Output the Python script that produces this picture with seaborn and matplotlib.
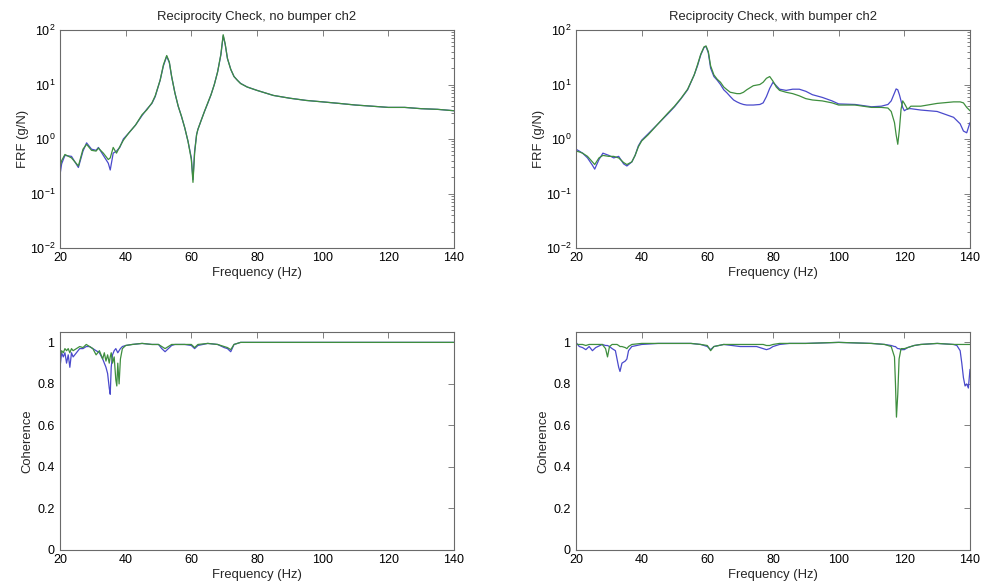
import numpy as np
import pandas as pd
import matplotlib
matplotlib.use("Agg")
import matplotlib.pyplot as plt
import seaborn as sns
from matplotlib.ticker import FixedLocator, FuncFormatter, LogLocator, NullFormatter

# ---------------- data ----------------
titles = ["Reciprocity Check, no bumper ch2", "Reciprocity Check, with bumper ch2"]
channels = ["ch A", "ch B"]
xticks = [20, 40, 60, 80, 100, 120, 140]
coh_ticks = [0, 0.2, 0.4, 0.6, 0.8, 1.0]

# FRF, no bumper
f_nb = [20, 20.5, 21.5, 23.5, 25.6, 27, 28.1, 29.6, 31, 31.7, 33.2, 34.7, 35.3, 36.2, 37.2,
        38.2, 39.3, 41, 43, 45, 46.4, 48, 49, 50.5, 51.5, 52.5, 53.3, 54, 55, 56, 57, 58, 59,
        60, 60.5, 61, 61.6, 62, 63, 64, 65, 66, 67, 68, 69, 69.7, 70.3, 71, 72, 73, 74, 75, 77,
        80, 85, 90, 95, 100, 105, 110, 115, 120, 125, 130, 135, 140]
frf_nb_blue = [0.22, 0.35, 0.5, 0.48, 0.3, 0.6, 0.85, 0.65, 0.62, 0.7, 0.5, 0.36, 0.27, 0.55, 0.6,
               0.7, 1.0, 1.3, 1.8, 2.7, 3.5, 4.5, 6, 12, 22, 33, 25, 14, 7, 4, 2.6, 1.6, 0.9,
               0.45, 0.18, 0.6, 1.2, 1.5, 2.2, 3.2, 4.5, 6.5, 10, 17, 35, 78, 55, 30, 19, 14, 12, 10.5, 9,
               7.8, 6.3, 5.6, 5.1, 4.8, 4.5, 4.2, 4.0, 3.8, 3.8, 3.6, 3.5, 3.3]
frf_nb_green = [0.3, 0.4, 0.52, 0.45, 0.32, 0.65, 0.8, 0.62, 0.6, 0.68, 0.55, 0.42, 0.45, 0.7, 0.55,
                0.72, 0.95, 1.3, 1.8, 2.8, 3.4, 4.6, 6.2, 12, 23, 34, 26, 14, 7, 4, 2.6, 1.6, 0.9,
                0.42, 0.16, 0.55, 1.2, 1.5, 2.2, 3.2, 4.6, 6.5, 10, 17, 36, 82, 56, 30, 19, 14, 12, 10.4, 9,
                7.8, 6.3, 5.6, 5.1, 4.8, 4.5, 4.2, 4.0, 3.8, 3.8, 3.6, 3.5, 3.3]

# FRF, with bumper
f_wb = [20, 21, 22, 23.5, 25, 25.7, 27, 28.2, 30, 31.5, 33, 34.5, 35.5, 37, 38, 39, 40, 42, 45,
        48, 50, 52, 54, 56, 57, 58, 59, 59.6, 60.3, 61, 62, 63, 64, 65, 66, 67, 68, 69, 70, 71,
        72, 74, 76, 77, 78, 79, 80, 81, 82, 84, 86, 88, 90, 92, 95, 98, 100, 105, 110, 113, 115,
        116, 117, 117.5, 118, 118.5, 119, 119.5, 120, 121, 122, 125, 130, 135, 137, 138, 139, 140]
frf_wb_blue = [0.65, 0.6, 0.55, 0.45, 0.33, 0.28, 0.42, 0.55, 0.5, 0.45, 0.48, 0.35, 0.32, 0.38, 0.5,
               0.75, 0.95, 1.25, 1.9, 2.9, 3.9, 5.5, 8, 15, 22, 35, 48, 50, 38, 20, 14, 12, 10, 8,
               7, 6, 5.2, 4.8, 4.5, 4.3, 4.2, 4.2, 4.3, 4.6, 6, 8.5, 11, 9.5, 8.2, 7.8, 8.2, 8.2, 7.5,
               6.5, 5.8, 5, 4.4, 4.3, 3.9, 4.0, 4.3, 5, 7, 8.3, 8, 6.5, 5, 3.8, 3.3, 3.6, 3.6, 3.4,
               3.2, 2.5, 1.9, 1.4, 1.3, 2.0]
frf_wb_green = [0.6, 0.58, 0.55, 0.48, 0.38, 0.34, 0.45, 0.5, 0.48, 0.48, 0.45, 0.37, 0.34, 0.38, 0.5,
                0.72, 0.92, 1.2, 1.9, 3.0, 4.0, 5.6, 8.2, 15, 23, 36, 49, 51, 40, 22, 15, 12.5, 11, 9,
                8, 7.2, 7, 6.8, 6.8, 7.2, 8, 9.5, 10, 11, 13, 14, 11.5, 9, 7.8, 7.2, 6.8, 6.2, 5.5,
                5.2, 5.0, 4.6, 4.2, 4.2, 3.8, 3.8, 3.7, 3.2, 2.0, 1.2, 0.8, 1.5, 3.5, 5, 4.5, 3.5, 4,
                4, 4.5, 4.8, 4.8, 4.6, 3.8, 3.3]

# Coherence, no bumper
fc_nb = [20, 20.5, 21, 21.5, 22, 22.5, 23, 23.5, 24, 25, 26, 27, 28, 29, 30, 31, 32, 33, 33.5,
         34, 34.5, 35, 35.3, 35.6, 36, 36.5, 37, 37.3, 37.6, 38, 38.4, 39, 40, 42, 45, 48, 50,
         51, 52, 53, 54, 55, 58, 60, 61, 62, 65, 68, 70, 71, 72, 73, 75, 80, 100, 120, 140]
coh_nb_blue = [0.88, 0.95, 0.93, 0.95, 0.9, 0.94, 0.88, 0.95, 0.93, 0.95, 0.97, 0.97, 0.98, 0.98,
               0.97, 0.96, 0.95, 0.92, 0.9, 0.88, 0.85, 0.78, 0.75, 0.88, 0.94, 0.96, 0.97, 0.96,
               0.95, 0.96, 0.97, 0.98, 0.985, 0.99, 0.995, 0.99, 0.99, 0.97, 0.955, 0.97, 0.985,
               0.99, 0.99, 0.985, 0.97, 0.985, 0.995, 0.99, 0.975, 0.97, 0.955, 0.99, 1.0, 1.0,
               1.0, 1.0, 1.0]
coh_nb_green = [0.93, 0.96, 0.95, 0.97, 0.96, 0.97, 0.95, 0.97, 0.96, 0.97, 0.98, 0.975, 0.99, 0.98,
                0.97, 0.94, 0.96, 0.92, 0.95, 0.91, 0.94, 0.9, 0.93, 0.95, 0.9, 0.93, 0.82, 0.79,
                0.9, 0.8, 0.92, 0.97, 0.985, 0.99, 0.995, 0.99, 0.99, 0.98, 0.97, 0.98, 0.99,
                0.99, 0.99, 0.99, 0.975, 0.99, 0.995, 0.99, 0.98, 0.975, 0.965, 0.99, 1.0, 1.0,
                1.0, 1.0, 1.0]

# Coherence, with bumper
fc_wb = [20, 21, 22, 23, 24, 25, 26, 28, 29, 29.6, 30.2, 31, 32, 32.5, 33, 33.4, 34, 35, 35.5,
         36, 37, 40, 45, 50, 55, 58, 60, 61, 62, 65, 70, 75, 77, 78, 79, 80, 82, 85, 90, 100,
         110, 114, 116, 117, 117.3, 117.6, 118, 118.4, 119, 120, 121, 123, 125, 130, 135, 136,
         137, 137.5, 138, 138.5, 139, 139.5, 140]
coh_wb_blue = [1.0, 0.98, 0.975, 0.965, 0.98, 0.96, 0.975, 0.99, 0.985, 0.985, 0.98, 0.97, 0.96,
               0.92, 0.88, 0.86, 0.9, 0.91, 0.92, 0.96, 0.98, 0.99, 0.995, 0.995, 0.995, 0.99,
               0.98, 0.965, 0.98, 0.99, 0.98, 0.98, 0.97, 0.965, 0.97, 0.98, 0.99, 0.995, 0.995,
               1.0, 0.995, 0.99, 0.985, 0.98, 0.98, 0.975, 0.97, 0.97, 0.965, 0.965, 0.975, 0.985,
               0.99, 0.995, 0.99, 0.985, 0.96, 0.9, 0.83, 0.79, 0.8, 0.78, 0.87]
coh_wb_green = [0.99, 0.99, 0.99, 0.985, 0.99, 0.99, 0.99, 0.99, 0.97, 0.93, 0.98, 0.99, 0.99,
                0.99, 0.985, 0.98, 0.98, 0.975, 0.97, 0.98, 0.99, 0.995, 0.995, 0.995, 0.995, 0.99,
                0.985, 0.96, 0.98, 0.99, 0.99, 0.99, 0.99, 0.985, 0.985, 0.99, 0.995, 0.995, 0.995,
                1.0, 0.995, 0.99, 0.98, 0.93, 0.8, 0.64, 0.75, 0.92, 0.97, 0.97, 0.975, 0.985,
                0.99, 0.995, 0.99, 0.99, 0.99, 0.99, 0.99, 0.99, 0.99, 0.99, 0.99]

# ---------------- style ----------------
sns.set_style("white")
plt.rcParams['font.family'] = ['Liberation Sans', 'DejaVu Sans']
plt.rcParams['mathtext.default'] = 'regular'
FS = 9.4
TFS = 9.0
BLUE = "#4a4acc"
GREEN = "#3e8e3e"
SPINE = "#6a6a6a"
palette = {channels[0]: BLUE, channels[1]: GREEN}

fig = plt.figure(figsize=(9.82, 5.88), dpi=100)
W, H = 982, 588

def axes_px(l, t, r, b):
    return fig.add_axes([l / W, 1 - b / H, (r - l) / W, (b - t) / H])

ax_tl = axes_px(60, 30, 454, 248)
ax_tr = axes_px(576, 30, 970, 248)
ax_bl = axes_px(60, 332, 454, 550)
ax_br = axes_px(576, 332, 970, 550)

def make_df(f, a, b):
    return pd.DataFrame({
        "freq": list(f) + list(f),
        "val": list(a) + list(b),
        "ch": [channels[0]] * len(f) + [channels[1]] * len(f),
    })

def style_ax(ax):
    for s in ax.spines.values():
        s.set_color(SPINE)
        s.set_linewidth(0.8)
    ax.tick_params(which='both', direction='in', top=True, right=True,
                   colors=SPINE, labelcolor='black', labelsize=TFS, width=0.6)
    ax.tick_params(which='major', length=4, pad=3)
    ax.tick_params(which='minor', length=2)
    ax.set_xlim(20, 140)
    ax.xaxis.set_major_locator(FixedLocator(xticks))
    ax.set_xlabel("Frequency (Hz)", fontsize=FS, labelpad=2)

# FRF panels
for ax, f, a, b, title in [(ax_tl, f_nb, frf_nb_blue, frf_nb_green, titles[0]),
                           (ax_tr, f_wb, frf_wb_blue, frf_wb_green, titles[1])]:
    df = make_df(f, a, b)
    sns.lineplot(data=df, x="freq", y="val", hue="ch", palette=palette, ax=ax,
                 estimator=None, sort=False, linewidth=0.9, legend=False)
    ax.set_yscale("log")
    ax.set_ylim(1e-2, 1e2)
    ax.yaxis.set_major_locator(LogLocator(base=10, numticks=10))
    ax.yaxis.set_minor_locator(LogLocator(base=10, subs=np.arange(2, 10), numticks=20))
    ax.yaxis.set_minor_formatter(NullFormatter())
    style_ax(ax)
    ax.set_ylabel("FRF (g/N)", fontsize=FS, labelpad=1)
    ax.set_title(title, fontsize=FS, pad=7)

# Coherence panels
for ax, f, a, b in [(ax_bl, fc_nb, coh_nb_blue, coh_nb_green),
                    (ax_br, fc_wb, coh_wb_blue, coh_wb_green)]:
    df = make_df(f, a, b)
    sns.lineplot(data=df, x="freq", y="val", hue="ch", palette=palette, ax=ax,
                 estimator=None, sort=False, linewidth=0.9, legend=False)
    ax.set_ylim(0, 1.05)
    ax.yaxis.set_major_locator(FixedLocator(coh_ticks))
    ax.yaxis.set_major_formatter(FuncFormatter(lambda v, p: f"{v:g}"))
    style_ax(ax)
    ax.tick_params(axis='y', pad=4)
    ax.set_ylabel("Coherence", fontsize=FS, labelpad=3)

fig.savefig("out.png", dpi=100, facecolor="white")
